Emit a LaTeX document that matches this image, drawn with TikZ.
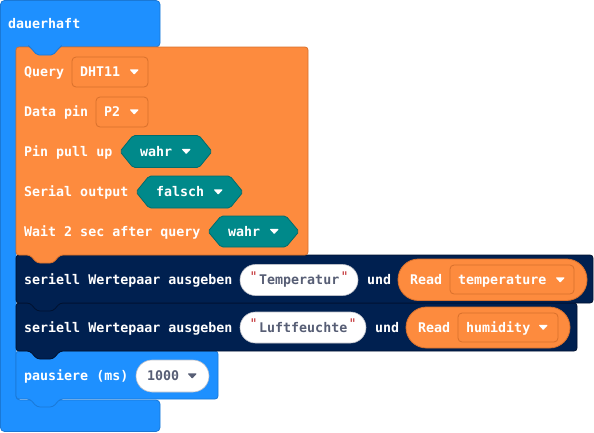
\documentclass[tikz,border=0pt]{standalone}
\usepackage{fontspec}
\newfontfamily\blkfont{DejaVu Sans Mono}
\definecolor{mcblue}{HTML}{1E90FF}
\definecolor{mcblueD}{HTML}{1A78D6}
\definecolor{mcorange}{HTML}{FD8B3E}
\definecolor{mcorangeD}{HTML}{D8702C}
\definecolor{mcnavy}{HTML}{002050}
\definecolor{mcnavyD}{HTML}{00112E}
\definecolor{mcteal}{HTML}{00898A}
\definecolor{mctealD}{HTML}{006C6D}
\definecolor{mcgray}{HTML}{575E75}
\definecolor{mcred}{HTML}{C0282B}
\newcommand\ddtri[3]{\fill[#3, rounded corners=0.8] (#1,#2-2.6) -- (#1+9.5,#2-2.6) -- (#1+4.75,#2+2.6) -- cycle;}
\begin{document}
\begin{tikzpicture}[x=1pt,y=-1pt,
  lbl/.style={font=\blkfont\fontsize{13.3}{16}\selectfont\bfseries, text=white, inner sep=0pt, anchor=base west},
  lbld/.style={lbl, text=mcgray},
  qt/.style={font=\blkfont\fontsize{13.3}{16}\selectfont, text=mcred, inner sep=0pt, anchor=base west},
  blockline/.style={line width=0.8pt, line join=round},
  ddbox/.style={fill=mcorange, draw=mcorangeD, line width=0.8pt, rounded corners=4},
  hexbox/.style={fill=mcteal, draw=mctealD, line width=0.8pt, rounded corners=2},
  pill/.style={fill=white, draw=mcgray!40, line width=0.6pt},
  opill/.style={fill=mcorange, draw=mcorangeD, line width=0.8pt}]
\useasboundingbox (0,0) rectangle (594,432);
% outer C block
\path[blockline, fill=mcblue, draw=mcblueD, rounded corners=4]
  (0.5,0.5) -- (160,0.5) -- (160,47) -- (16,47) -- (16,400) -- (160,400) -- (160,431.5) -- (0.5,431.5) -- cycle;
% pausiere block
\path[blockline, fill=mcblue, draw=mcblueD, rounded corners=3]
  (16,351) -- (218,351) -- (218,399) -- (60,399) -- (53,407) -- (37,407) -- (30,399) -- (16,399) -- cycle;
% serial block 2
\path[blockline, fill=mcnavy, draw=mcnavyD, rounded corners=3]
  (16,303) -- (577,303) -- (577,351) -- (60,351) -- (53,359) -- (37,359) -- (30,351) -- (16,351) -- cycle;
% serial block 1
\path[blockline, fill=mcnavy, draw=mcnavyD, rounded corners=3]
  (16,255) -- (593,255) -- (593,303) -- (60,303) -- (53,311) -- (37,311) -- (30,303) -- (16,303) -- cycle;
% DHT block
\path[blockline, fill=mcorange, draw=mcorangeD, rounded corners=3]
  (16,47) -- (308,47) -- (308,255) -- (60,255) -- (53,263) -- (37,263) -- (30,255) -- (16,255) -- cycle;
% blue tab of the C block
\path[blockline, fill=mcblue, draw=mcblueD, rounded corners=2]
  (29,46.2) -- (30,47) -- (37,55) -- (53,55) -- (60,47) -- (61,46.2);

\node[lbl] (tforever) at (8,28.8) {dauerhaft};

% Query
\node[lbl] (tquery) at (24,76.8) {Query};
\path[ddbox] (72,57) rectangle (148,87);
\node[lbl] (tdht) at (80,76.8) {DHT11};
\ddtri{129.5}{72}{white}
% Data pin
\node[lbl] (tpin) at (24,116.8) {Data pin};
\path[ddbox] (96,97) rectangle (148,127);
\node[lbl] (tp2) at (104,116.8) {P2};
\ddtri{129.5}{112}{white}
% Pin pull up
\node[lbl] (tpull) at (24,156.3) {Pin pull up};
\path[hexbox] (133,135.5) -- (199,135.5) -- (212,151.5) -- (199,167.5) -- (133,167.5) -- (120,151.5) -- cycle;
\node[lbl] (twahr1) at (140,156.3) {wahr};
\ddtri{181.5}{151.5}{white}
% Serial output
\node[lbl] (tser) at (24,196.8) {Serial output};
\path[hexbox] (149,176) -- (230,176) -- (243,192) -- (230,208) -- (149,208) -- (136,192) -- cycle;
\node[lbl] (tfalsch) at (156,196.8) {falsch};
\ddtri{213.5}{192}{white}
% Wait
\node[lbl] (twait) at (24,236.3) {Wait 2 sec after query};
\path[hexbox] (221,216) -- (286,216) -- (299,231.5) -- (286,247) -- (221,247) -- (208,231.5) -- cycle;
\node[lbl] (twahr2) at (228,236.3) {wahr};
\ddtri{269.5}{231.5}{white}

% serial row 1
\node[lbl] (ts1) at (24,284.8) {seriell Wertepaar ausgeben};
\path[pill, rounded corners=15.5] (240,264.5) rectangle (358,295.5);
\node[qt] (q1a) at (249.5,281) {"};
\node[lbld] (ttemp) at (259,284.8) {Temperatur};
\node[qt] (q1b) at (340.5,281) {"};
\node[lbl] (tund1) at (367,284.8) {und};
\path[opill, rounded corners=20.5] (398,259) rectangle (587,300.5);
\node[lbl] (tread1) at (410,284.8) {Read};
\path[ddbox] (450,265) rectangle (574,294);
\node[lbl] (ttemperature) at (458,284.8) {temperature};
\ddtri{555.5}{280}{white}

% serial row 2
\node[lbl] (ts2) at (24,332.3) {seriell Wertepaar ausgeben};
\path[pill, rounded corners=15.5] (240,312) rectangle (366,343);
\node[qt] (q2a) at (249.5,328.5) {"};
\node[lbld] (tluft) at (259,332.3) {Luftfeuchte};
\node[qt] (q2b) at (348.5,328.5) {"};
\node[lbl] (tund2) at (375,332.3) {und};
\path[opill, rounded corners=20.5] (406,307) rectangle (570,348);
\node[lbl] (tread2) at (418,332.3) {Read};
\path[ddbox] (458,313) rectangle (558,342);
\node[lbl] (thum) at (466,332.3) {humidity};
\ddtri{538.5}{327.5}{white}

% pausiere
\node[lbl] (tpause) at (24,380.8) {pausiere (ms)};
\path[pill, rounded corners=16] (136,360) rectangle (209,392);
\node[lbld] (t1000) at (147,380.8) {1000};
\ddtri{187.5}{376}{mcgray}
\end{tikzpicture}
\end{document}
